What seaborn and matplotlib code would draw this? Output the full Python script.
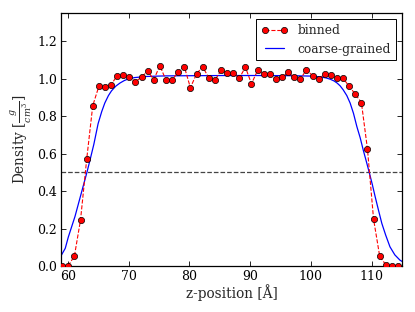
import matplotlib
matplotlib.use("Agg")
import matplotlib.pyplot as plt
import seaborn as sns
import pandas as pd

# binned density profile
z_binned = [59.10, 60.10, 61.11, 62.11, 63.12, 64.12, 65.12, 66.13, 67.13, 68.14,
            69.14, 70.14, 71.15, 72.15, 73.16, 74.16, 75.16, 76.17, 77.17, 78.18,
            79.18, 80.18, 81.19, 82.19, 83.20, 84.20, 85.20, 86.21, 87.21, 88.22,
            89.22, 90.22, 91.23, 92.23, 93.24, 94.24, 95.24, 96.25, 97.25, 98.26,
            99.26, 100.26, 101.27, 102.27, 103.28, 104.28, 105.28, 106.29, 107.29, 108.30,
            109.30, 110.30, 111.31, 112.31, 113.32, 114.32]
rho_binned = [0.000, 0.002, 0.055, 0.246, 0.569, 0.856, 0.959, 0.956, 0.968, 1.016,
              1.020, 1.007, 0.984, 1.009, 1.041, 0.995, 1.070, 0.991, 0.993, 1.036,
              1.064, 0.952, 1.026, 1.064, 1.005, 0.991, 1.044, 1.032, 1.030, 1.002,
              1.062, 0.973, 1.044, 1.027, 1.025, 0.998, 1.007, 1.034, 1.007, 0.998,
              1.048, 1.016, 0.998, 1.025, 1.021, 1.003, 1.003, 0.959, 0.918, 0.873,
              0.624, 0.251, 0.053, 0.007, 0.000, 0.000]

# coarse-grained density profile
z_cg = [58.9, 59.6, 60.1, 60.6, 61.2, 61.7, 62.2, 62.7, 63.2, 63.7,
        64.3, 65.0, 65.6, 66.1, 66.7, 67.2, 67.9, 68.6, 69.3, 69.9,
        71.0, 73.0, 76.0, 80.0, 86.0, 92.0, 97.0, 100.0, 101.5, 102.5,
        103.2, 103.8, 104.3, 104.8, 105.3, 105.9, 106.45, 107.0, 107.55, 108.1,
        108.6, 109.1, 109.6, 110.1, 110.56, 111.1, 111.66, 112.3, 113.0, 113.8,
        114.64, 115.0]
rho_cg = [0.055, 0.095, 0.155, 0.205, 0.265, 0.325, 0.385, 0.445, 0.505, 0.570,
          0.650, 0.760, 0.825, 0.870, 0.910, 0.935, 0.960, 0.977, 0.990, 0.998,
          1.006, 1.012, 1.015, 1.016, 1.017, 1.017, 1.016, 1.014, 1.010, 1.004,
          0.997, 0.988, 0.977, 0.962, 0.941, 0.910, 0.870, 0.815, 0.745, 0.685,
          0.620, 0.560, 0.499, 0.435, 0.371, 0.300, 0.228, 0.165, 0.103, 0.060,
          0.032, 0.025]

half_density = 0.5
x_ticks = [60, 70, 80, 90, 100, 110]
y_ticks = [0.0, 0.2, 0.4, 0.6, 0.8, 1.0, 1.2]

sns.set_style("white")
plt.rcParams["font.family"] = ["DejaVu Serif"]
plt.rcParams["mathtext.fontset"] = "dejavuserif"
fs_tick = 9.0
fs_label = 9.8
fs_leg = 8.8

df_b = pd.DataFrame({"z": z_binned, "rho": rho_binned})
df_c = pd.DataFrame({"z": z_cg, "rho": rho_cg})

fig = plt.figure(figsize=(4.15, 3.12), dpi=100)
ax = fig.add_axes([0.147, 0.147, 0.822, 0.811])

sns.lineplot(data=df_b, x="z", y="rho", ax=ax, color="red", linestyle="--",
             linewidth=0.8, marker="o", markersize=4.5, markeredgecolor="black",
             markeredgewidth=0.5, markerfacecolor="red", label="binned",
             estimator=None, sort=True, zorder=3)
sns.lineplot(data=df_c, x="z", y="rho", ax=ax, color="blue", linewidth=0.9,
             label="coarse-grained", estimator=None, sort=True, zorder=2)
ax.axhline(half_density, color="#444444", linestyle="--", linewidth=0.9, zorder=1)

ax.set_xlim(58.9, 115.0)
ax.set_ylim(0, 1.35)
ax.set_xticks(x_ticks)
ax.set_yticks(y_ticks)
ax.set_xticklabels([str(t) for t in x_ticks], fontsize=fs_tick)
ax.set_yticklabels([f"{t:.1f}" for t in y_ticks], fontsize=fs_tick)
ax.tick_params(direction="in", length=3.5, width=0.6, top=True, right=True,
               bottom=True, left=True, pad=3, colors="black")
for s in ax.spines.values():
    s.set_color("black")
    s.set_linewidth(0.9)

ax.set_xlabel("z-position [Å]", fontsize=fs_label, labelpad=0.5)
ax.set_ylabel(r"Density [$\frac{g}{cm^3}$]", fontsize=fs_label, labelpad=2)

leg = ax.legend(loc="upper right", fontsize=fs_leg, numpoints=2, fancybox=False,
                framealpha=1, edgecolor="black", borderaxespad=0.5,
                handlelength=2.2, borderpad=0.4, labelspacing=0.45)
leg.get_frame().set_linewidth(0.7)

fig.savefig("out.png", dpi=100)
